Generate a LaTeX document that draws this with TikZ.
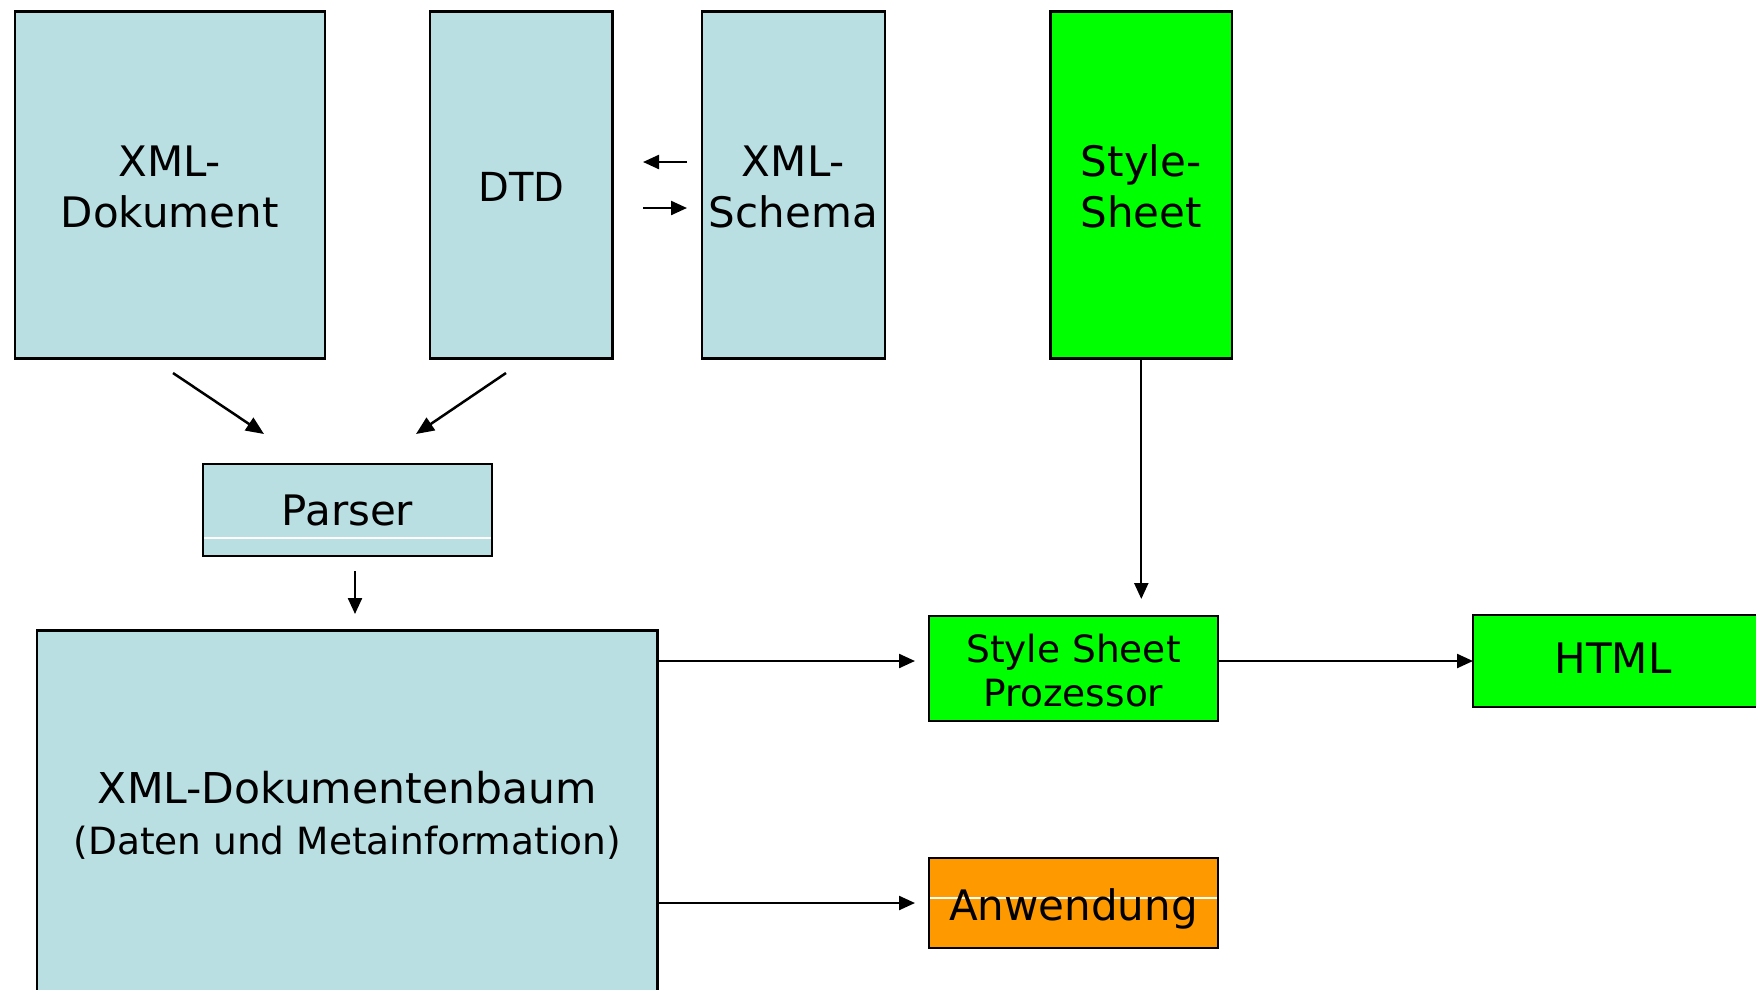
\documentclass[tikz,border=0pt]{standalone}
\usepackage{fontspec}
\setmainfont{DejaVu Sans}
\usetikzlibrary{arrows.meta}
\definecolor{lblue}{RGB}{185,223,227}
\definecolor{lgreen}{RGB}{0,255,0}
\definecolor{orng}{RGB}{255,153,0}
\begin{document}
\begin{tikzpicture}[x=1pt,y=-1pt,
  box/.style={draw=black, line width=2.4pt, inner sep=0pt, outer sep=0pt, align=center,
    font=\fontsize{42}{51}\selectfont},
  arr/.style={-{Triangle[length=16pt,width=14pt]}, line width=2.3pt},
  bigarr/.style={-{Triangle[length=18pt,width=15pt]}, line width=2.5pt},
  whiteline/.style={path picture={\draw[white,line width=1.2pt]
     ([yshift=#1]path picture bounding box.west) -- ([yshift=#1]path picture bounding box.east);}}
]
\useasboundingbox (0,0) rectangle (1756,989);
\clip (0,0) rectangle (1756,989);
\fill[white] (0,0) rectangle (1756,989);

% helper coordinates for connector heights
\coordinate (h162) at (0,162);
\coordinate (h208) at (0,208);
\coordinate (h661) at (0,661);
\coordinate (v355) at (355,0);

% nodes
\node[box, fill=lblue, minimum width=310pt, minimum height=347pt] (xmldok) at (169.7,184.8) {\raisebox{-2pt}[\height][\depth]{XML-}\\\raisebox{-2pt}[\height][\depth]{Dokument}};
\node[box, fill=lblue, minimum width=182.6pt, minimum height=347pt, font=\fontsize{40}{48}\selectfont] (dtd) at (521.3,184.8) {\raisebox{-2pt}[\height][\depth]{DTD}};
\node[box, fill=lblue, minimum width=182.8pt, minimum height=347pt] (schema) at (793.4,184.8) {\raisebox{-2pt}[\height][\depth]{XML-}\\\raisebox{-2pt}[\height][\depth]{Schema}};
\node[box, fill=lgreen, minimum width=181.5pt, minimum height=347pt] (style) at (1141.3,184.8) {\raisebox{-2pt}[\height][\depth]{Style-}\\\raisebox{-2pt}[\height][\depth]{Sheet}};
\node[box, fill=lblue, minimum width=289pt, minimum height=92pt, whiteline=-28pt] (parser) at (347.5,510) {Parser};
\node[box, fill=lblue, minimum width=620.4pt, minimum height=369pt, font=\fontsize{42.5}{51}\selectfont] (baum) at (347.2,815)
  {XML-Dokumentenbaum\\{\fontsize{37.5}{51}\selectfont(Daten und Metainformation)}};
\node[box, fill=lgreen, minimum width=289pt, minimum height=105pt, font=\fontsize{37.5}{44}\selectfont] (proz) at (1073.5,668.5) {\raisebox{-2pt}[\height][\depth]{Style Sheet}\\\raisebox{-2pt}[\height][\depth]{Prozessor}};
\node[box, fill=lgreen, minimum width=289pt, minimum height=92pt] (html) at (1617.5,661) {\hspace*{-9pt}\raisebox{3pt}[\height][\depth]{HTML}};
\node[box, fill=orng, minimum width=289pt, minimum height=90pt, whiteline=5pt] (anw) at (1073.5,903) {\raisebox{-5.5pt}[\height][\depth]{Anwendung}};

% free arrow ends
\coordinate (d1s) at (173,373);
\coordinate (d1e) at (264,434);
\coordinate (d2s) at (506,373);
\coordinate (d2e) at (416,434);

% connectors
\draw[arr, shorten <=15pt, shorten >=30.4pt] (schema.west |- h162) -- (dtd.east |- h162);
\draw[arr, shorten <=30.4pt, shorten >=15pt] (dtd.east |- h208) -- (schema.west |- h208);
\draw[bigarr] (d1s) -- (d1e);
\draw[bigarr] (d2s) -- (d2e);
\draw[arr, shorten <=15pt, shorten >=16.5pt] (parser.south -| v355) -- (baum.north -| v355);
\draw[arr, shorten >=17pt] (style.south) -- (proz.north -| style.south);
\draw[arr, shorten >=14pt] (baum.east |- h661) -- (proz.west |- h661);
\draw[arr] (proz.east |- h661) -- (html.west);
\draw[arr, shorten >=14pt] (baum.east |- anw) -- (anw.west);
\end{tikzpicture}
\end{document}
